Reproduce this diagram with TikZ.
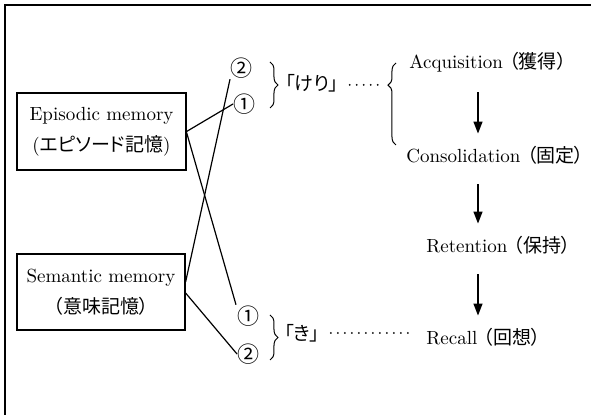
\documentclass[tikz,border=0pt]{standalone}
\usepackage{fontspec}
\newfontfamily\jp[CharacterWidth=AlternateProportional]{Noto Sans CJK JP}
\usetikzlibrary{arrows.meta,decorations.pathreplacing}

\tikzset{
  every node/.style={font=\fontsize{9.5pt}{11.5pt}\selectfont},
  memory/.style={draw,line width=0.6pt,align=center,inner sep=0pt},
  stage/.style={anchor=west,inner sep=2pt},
  num/.style={inner sep=0.3pt,font=\jp\fontsize{11pt}{13pt}\selectfont},
  flow/.style={-{Triangle[length=6pt,width=4.5pt]},line width=0.7pt},
  link/.style={line width=0.6pt},
  dots/.style={line width=1pt,dash pattern=on 0pt off 3.5pt,line cap=round},
  brc/.style={decorate,decoration={brace,amplitude=4pt},line width=0.5pt}
}

\begin{document}
\begin{tikzpicture}[x=0.5pt,y=-0.5pt]

    \useasboundingbox (0,0) rectangle (591,415);
    \draw[line width=1pt] (5,5) rectangle (620,440);

    % memory boxes
    \node [memory,minimum width=84.5pt,minimum height=38.5pt] (epi) at (101.5,131.5)
        {Episodic memory\\[4pt]({\jp エピソード記憶})};
    \node [memory,minimum width=84pt,minimum height=38pt] (sem) at (101,292)
        {Semantic memory\\[4pt]{\jp （意味記憶）}};

    % circled numbers
    \node [num] (twoa) at (242,68) {②};
    \node [num] (onea) at (245,104) {①};
    \node [num] (oneb) at (248,316) {①};
    \node [num] (twob) at (249,354) {②};

    \draw[link] (epi.east) -- (onea.west);
    \draw[link] ([yshift=-0.5pt]epi.east) -- (oneb.north west);
    \draw[link] ([yshift=5pt]sem.east) -- (twoa.south west);
    \draw[link] ([yshift=-0.5pt]sem.east) -- (twob.west);

    % braces
    \draw[brc] (270,62) -- (270,108);
    \draw[brc] (270,315) -- (270,360);
    \draw[brc,decoration={aspect=0.73}] (396,145) -- (396,63);

    \node (keri) at (312,83) {\jp 「けり」};
    \node (ki) at (302,333) {\jp 「き」};

    % stages
    \node [stage] (acq) at (405,62) {Acquisition {\jp（獲得）}};
    \node [stage] (cons) at (402,155) {Consolidation {\jp（固定）}};
    \node [stage] (ret) at (422,245) {Retention {\jp（保持）}};
    \node [stage] (rec) at (422,337) {Recall {\jp（回想）}};

    \coordinate (ax) at (478,0);
    \draw[flow,shorten <=8pt,shorten >=4pt] (acq.south -| ax) -- (cons.north -| ax);
    \draw[flow,shorten <=8pt,shorten >=4pt] (cons.south -| ax) -- (ret.north -| ax);
    \draw[flow,shorten <=8pt,shorten >=4pt] (ret.south -| ax) -- (rec.north -| ax);

    \draw[dots] ([xshift=2pt,yshift=-1pt]keri.east) -- ++(35,0);
    \draw[dots] ([xshift=2pt,yshift=0pt]ki.east) -- ([xshift=-6pt]ki.east -| rec.west);

\end{tikzpicture}
\end{document}
